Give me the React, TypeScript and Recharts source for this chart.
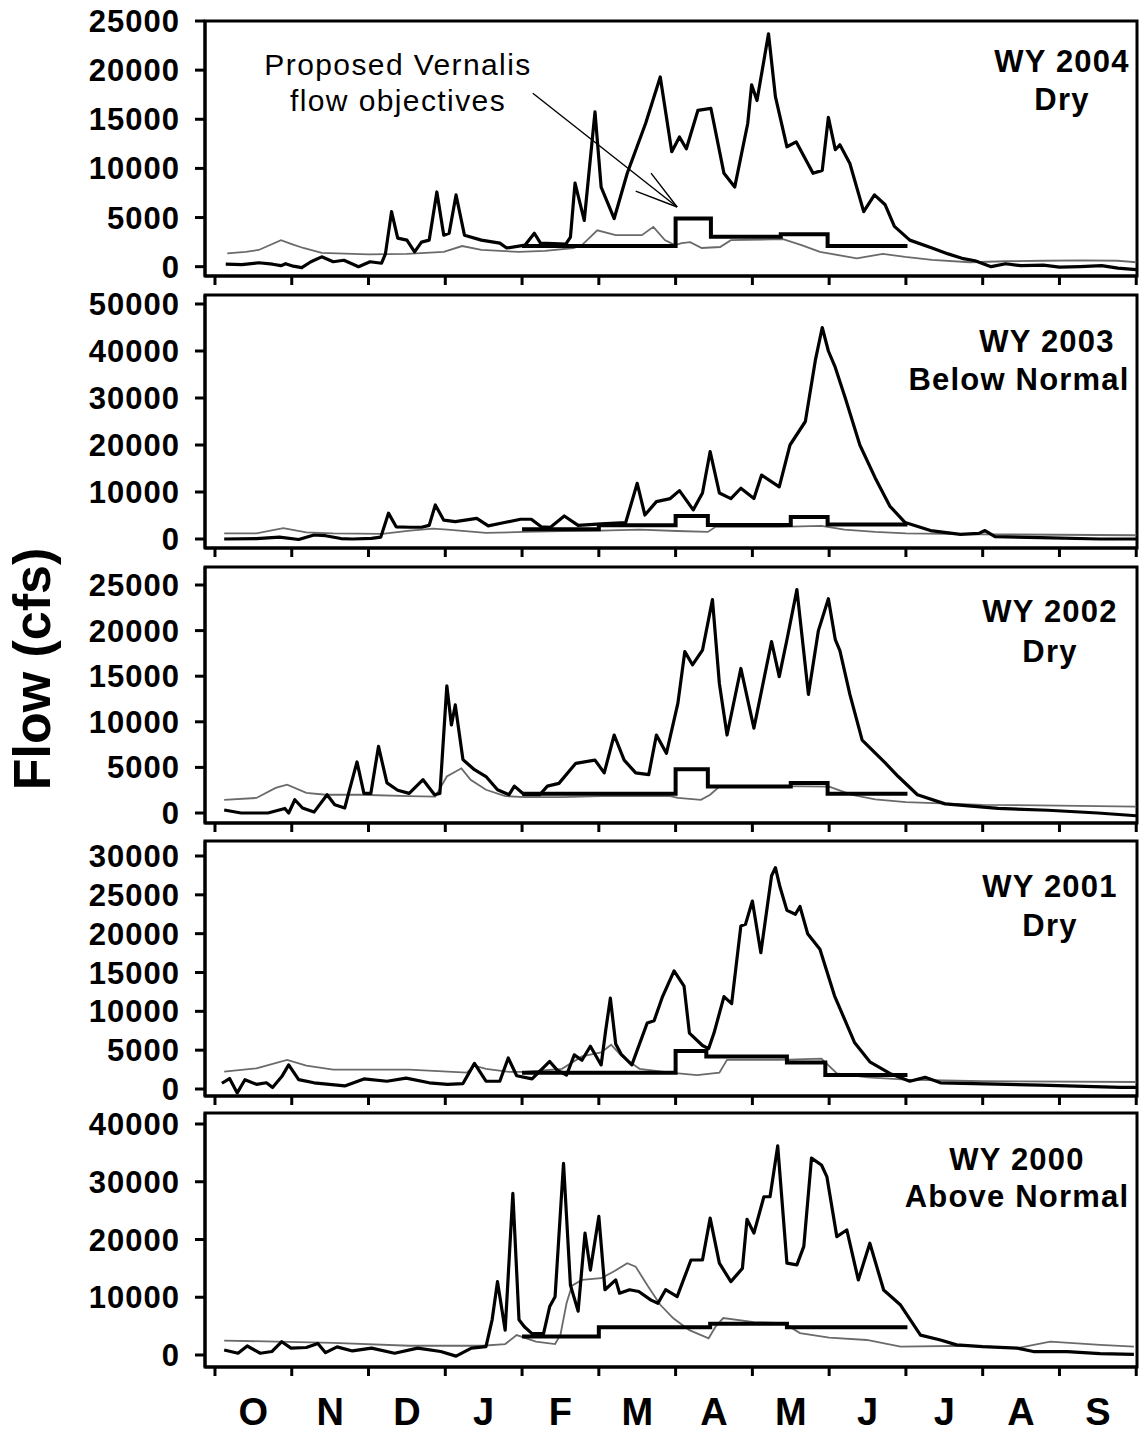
import React from 'react';
import { LineChart, Line, XAxis, YAxis, ReferenceArea, ReferenceLine } from 'recharts';

type Pt = [number, number];

// x = months since Oct 1 (0 = Oct 1, 12 = Sep 30), y = flow (cfs)
const monthLabels = ['O', 'N', 'D', 'J', 'F', 'M', 'A', 'M', 'J', 'J', 'A', 'S'];
const monthTicks = [0, 1, 2, 3, 4, 5, 6, 7, 8, 9, 10, 11, 12];
const labelTicks = [0.5, 1.5, 2.5, 3.5, 4.5, 5.5, 6.5, 7.5, 8.5, 9.5, 10.5, 11.5];

// ---------- WY 2004 ----------
const wy2004Observed: Pt[] = [
  [0.14, 250], [0.35, 200], [0.57, 400], [0.75, 250], [0.86, 100], [0.92, 300], [1.02, 50], [1.13, -100],
  [1.25, 500], [1.39, 1000], [1.54, 500], [1.68, 650], [1.87, 0], [2.02, 500], [2.17, 350], [2.22, 1300],
  [2.3, 5600], [2.38, 2900], [2.5, 2700], [2.6, 1500], [2.69, 2500], [2.79, 2700], [2.89, 7600], [2.98, 3200],
  [3.05, 3400], [3.14, 7300], [3.25, 3200], [3.47, 2700], [3.71, 2400], [3.8, 1900], [4.04, 2200], [4.16, 3400],
  [4.24, 2400], [4.57, 2300], [4.63, 3000], [4.69, 8500], [4.81, 4700], [4.95, 15750], [5.03, 8100], [5.2, 4900],
  [5.37, 9500], [5.61, 14600], [5.8, 19300], [5.95, 11700], [6.05, 13200], [6.14, 12000], [6.29, 15900],
  [6.46, 16100], [6.63, 9500], [6.77, 8100], [6.94, 14600], [6.99, 18500], [7.06, 16900], [7.21, 23700],
  [7.3, 17300], [7.45, 12200], [7.57, 12700], [7.79, 9500], [7.91, 9800], [7.99, 15200], [8.08, 11900],
  [8.14, 12400], [8.27, 10500], [8.45, 5600], [8.59, 7300], [8.73, 6300], [8.85, 4100], [9.05, 2700],
  [9.34, 1900], [9.55, 1300], [9.73, 850], [9.9, 600], [10.11, 0], [10.3, 300], [10.5, 100], [10.79, 150],
  [11.0, -50], [11.27, 0], [11.55, 100], [11.76, -150], [12.0, -300],
];
const wy2004Unimpaired: Pt[] = [
  [0.16, 1350], [0.4, 1500], [0.57, 1700], [0.86, 2700], [1.0, 2300], [1.15, 1900], [1.39, 1400], [2.0, 1250],
  [2.5, 1300], [2.98, 1500], [3.22, 2100], [3.47, 1700], [3.96, 1500], [4.3, 1600], [4.67, 1900], [4.78, 2200],
  [4.98, 3700], [5.22, 3200], [5.56, 3200], [5.71, 4050], [5.86, 2700], [5.99, 2200], [6.08, 2400], [6.19, 2500],
  [6.34, 1900], [6.58, 2000], [6.72, 2700], [7.4, 2800], [7.64, 2200], [7.88, 1500], [8.36, 850], [8.7, 1300],
  [8.99, 1000], [9.34, 700], [9.83, 450], [10.3, 550], [10.79, 600], [11.3, 650], [11.76, 600], [12.0, 450],
];
const wy2004Objective: Pt[] = [[4.0, 2100], [6.0, 4900], [6.46, 3050], [7.37, 3300], [7.98, 2100], [9.02, 2100]];

// ---------- WY 2003 ----------
const wy2003Observed: Pt[] = [
  [0.12, 0], [0.54, 100], [0.84, 400], [1.09, -100], [1.29, 850], [1.44, 700], [1.64, 100], [1.79, 0],
  [2.04, 150], [2.16, 400], [2.26, 5500], [2.36, 2600], [2.54, 2500], [2.69, 2500], [2.79, 2900], [2.87, 7250],
  [2.98, 4000], [3.13, 3700], [3.41, 4400], [3.56, 2800], [3.74, 3400], [3.98, 4200], [4.12, 4200], [4.25, 2600],
  [4.37, 2500], [4.55, 4900], [4.73, 2900], [5.03, 3200], [5.35, 3500], [5.5, 11850], [5.6, 5100], [5.75, 7950],
  [5.93, 8600], [6.05, 10300], [6.23, 6200], [6.35, 9800], [6.45, 18600], [6.57, 9800], [6.72, 8600],
  [6.85, 10800], [7.02, 8600], [7.12, 13600], [7.35, 11100], [7.49, 20000], [7.69, 25000], [7.82, 38000],
  [7.91, 45000], [7.99, 40000], [8.08, 36500], [8.21, 30000], [8.4, 20000], [8.6, 13000], [8.79, 7000],
  [8.99, 3500], [9.32, 1800], [9.71, 1000], [9.95, 1200], [10.03, 1800], [10.16, 500], [10.75, 300], [11.53, 0], [12.0, 0],
];
const wy2003Unimpaired: Pt[] = [
  [0.12, 1200], [0.54, 1200], [0.89, 2300], [1.19, 1400], [1.54, 1200], [2.18, 1100], [2.54, 1800], [2.84, 2200],
  [3.03, 2000], [3.53, 1300], [4.03, 1500], [4.52, 1700], [5.03, 1800], [5.53, 2000], [6.02, 1700], [6.42, 1500],
  [6.52, 2600], [7.35, 2600], [7.9, 2800], [8.2, 2000], [8.6, 1500], [9.0, 1200], [10.0, 1000], [11.0, 900], [12.0, 800],
];
const wy2003Objective: Pt[] = [[4.0, 2100], [5.0, 2900], [6.0, 4900], [6.42, 3000], [7.5, 4700], [7.98, 3100], [9.02, 3100]];

// ---------- WY 2002 ----------
const wy2002Observed: Pt[] = [
  [0.12, 330], [0.34, 0], [0.69, 0], [0.91, 500], [0.96, 0], [1.04, 1450], [1.14, 550], [1.29, 100], [1.46, 2000],
  [1.56, 900], [1.69, 550], [1.74, 2150], [1.85, 5600], [1.94, 2150], [2.03, 2150], [2.13, 7300], [2.24, 3300],
  [2.38, 2500], [2.53, 2150], [2.71, 3650], [2.86, 2000], [2.93, 2150], [3.02, 13950], [3.08, 9650], [3.13, 11850],
  [3.23, 5850], [3.38, 4750], [3.53, 4000], [3.68, 2550], [3.83, 2000], [3.9, 2950], [4.03, 2000], [4.23, 2000],
  [4.33, 2950], [4.48, 3250], [4.7, 5450], [4.95, 5800], [5.07, 4400], [5.2, 8550], [5.33, 5800], [5.48, 4400],
  [5.65, 4200], [5.75, 8550], [5.88, 6550], [6.03, 12050], [6.12, 17700], [6.22, 16250], [6.35, 17850],
  [6.48, 23400], [6.57, 14200], [6.67, 8550], [6.85, 15850], [7.02, 9300], [7.25, 18800], [7.35, 14950],
  [7.45, 19000], [7.58, 24500], [7.73, 13000], [7.86, 20000], [7.99, 23500], [8.08, 19000], [8.14, 17800],
  [8.27, 13000], [8.43, 8000], [8.73, 5500], [8.9, 4000], [9.15, 2000], [9.51, 1000], [10.2, 500], [10.85, 300],
  [11.5, 0], [12.0, -300],
];
const wy2002Unimpaired: Pt[] = [
  [0.12, 1450], [0.54, 1650], [0.79, 2750], [0.94, 3100], [1.19, 2200], [1.44, 2000], [1.89, 2000], [2.53, 1850],
  [2.87, 1800], [3.02, 4000], [3.21, 4900], [3.33, 3650], [3.53, 2550], [3.78, 1850], [4.03, 1750], [4.52, 1750],
  [5.03, 1850], [5.93, 1850], [6.03, 1650], [6.33, 1450], [6.45, 2000], [6.57, 2900], [7.35, 2950], [8.0, 2900],
  [8.3, 2000], [8.6, 1500], [9.0, 1200], [10.0, 900], [11.0, 800], [12.0, 700],
];
const wy2002Objective: Pt[] = [[4.0, 2100], [6.0, 4800], [6.42, 2900], [7.5, 3300], [7.98, 2100], [9.02, 2100]];

// ---------- WY 2001 ----------
const wy2001Observed: Pt[] = [
  [0.09, 740], [0.19, 1350], [0.29, -500], [0.39, 1200], [0.54, 600], [0.67, 800], [0.75, 200], [0.87, 1600],
  [0.96, 3100], [1.09, 1200], [1.29, 800], [1.69, 400], [1.94, 1300], [2.24, 1000], [2.49, 1400], [2.79, 800],
  [3.03, 600], [3.23, 700], [3.38, 3300], [3.53, 1000], [3.71, 1000], [3.82, 4000], [3.93, 1700], [4.13, 1300],
  [4.36, 3550], [4.46, 2400], [4.58, 1800], [4.68, 4400], [4.78, 3700], [4.89, 5500], [5.03, 3100], [5.09, 7600],
  [5.15, 11700], [5.22, 5800], [5.29, 4500], [5.43, 3100], [5.63, 8500], [5.72, 8800], [5.83, 11900],
  [5.98, 15200], [6.11, 13250], [6.18, 7200], [6.35, 5600], [6.43, 5200], [6.5, 7200], [6.63, 11900],
  [6.73, 11000], [6.85, 21000], [6.91, 21200], [7.0, 24200], [7.11, 17550], [7.25, 27450], [7.3, 28500],
  [7.36, 26000], [7.45, 23000], [7.56, 22500], [7.62, 23500], [7.72, 20000], [7.88, 18000], [8.07, 12000],
  [8.33, 6000], [8.53, 3500], [8.79, 2000], [9.05, 1000], [9.25, 1500], [9.45, 800], [10.75, 500], [11.8, 200], [12.0, 200],
];
const wy2001Unimpaired: Pt[] = [
  [0.12, 2250], [0.54, 2650], [0.94, 3750], [1.19, 3000], [1.54, 2500], [2.53, 2500], [3.28, 2100], [3.38, 3000],
  [3.53, 2600], [3.83, 2200], [4.03, 2200], [4.52, 2600], [4.78, 4200], [5.03, 4700], [5.16, 5700], [5.3, 4200],
  [5.53, 2600], [5.93, 2100], [6.28, 1800], [6.57, 2100], [6.67, 3750], [7.36, 3750], [7.9, 3900], [8.1, 2000],
  [8.5, 1500], [9.0, 1200], [10.0, 1000], [12.0, 900],
];
const wy2001Objective: Pt[] = [[4.0, 2100], [6.0, 4900], [6.4, 4200], [7.45, 3400], [7.95, 1800], [9.02, 1800]];

// ---------- WY 2000 ----------
const wy2000Observed: Pt[] = [
  [0.12, 870], [0.3, 300], [0.42, 1560], [0.59, 300], [0.74, 600], [0.87, 2300], [0.99, 1200], [1.19, 1300],
  [1.34, 2000], [1.44, 400], [1.59, 1400], [1.79, 700], [2.04, 1200], [2.34, 300], [2.64, 1200], [2.94, 600],
  [3.14, -200], [3.34, 1200], [3.53, 1450], [3.61, 6100], [3.68, 12700], [3.78, 4300], [3.88, 28000],
  [3.96, 6100], [4.03, 4900], [4.13, 3700], [4.28, 3700], [4.36, 8400], [4.43, 10100], [4.54, 33200],
  [4.63, 12100], [4.73, 7600], [4.82, 21100], [4.89, 14700], [5.0, 24000], [5.08, 11300], [5.22, 13000],
  [5.27, 10700], [5.4, 11300], [5.52, 11000], [5.68, 9500], [5.77, 8950], [5.87, 11300], [6.02, 10100],
  [6.2, 16450], [6.35, 16450], [6.45, 23700], [6.57, 15900], [6.72, 12700], [6.87, 15000], [6.93, 23500],
  [7.02, 21100], [7.15, 27400], [7.23, 27400], [7.33, 36200], [7.45, 15900], [7.58, 15600], [7.67, 18800],
  [7.77, 34100], [7.9, 32900], [7.97, 30900], [8.1, 20500], [8.23, 21650], [8.38, 13000], [8.53, 19350],
  [8.71, 11250], [8.93, 8650], [9.06, 6050], [9.19, 3450], [9.45, 2600], [9.66, 1750], [10.0, 1450],
  [10.45, 1200], [10.66, 600], [11.1, 600], [11.53, 250], [11.97, 100],
];
const wy2000Unimpaired: Pt[] = [
  [0.12, 2500], [1.54, 2100], [2.53, 1600], [3.48, 1600], [3.78, 1900], [3.93, 3450], [4.18, 2300], [4.43, 1900],
  [4.5, 3500], [4.58, 9000], [4.65, 12000], [4.78, 13000], [5.03, 13300], [5.2, 14500], [5.37, 15900],
  [5.48, 15300], [5.64, 11900], [5.8, 8700], [5.97, 6350], [6.18, 4300], [6.43, 2900], [6.52, 4900], [6.62, 6400],
  [7.02, 5700], [7.41, 5500], [7.62, 3800], [8.0, 3000], [8.49, 2600], [8.93, 1450], [9.8, 1600], [10.45, 1200],
  [10.88, 2300], [11.53, 1750], [11.97, 1450],
];
const wy2000Objective: Pt[] = [[4.0, 3200], [5.0, 4800], [6.45, 5400], [7.45, 4800], [9.02, 4800]];

// ---------- layout / options ----------
const FONT = "'Liberation Sans', Arial, Helvetica, sans-serif";
const X_DOMAIN: [number, number] = [-0.13, 12.01];

interface PanelCfg {
  titles: { text: string; x: number; y: number }[];
  observed: Pt[];
  unimpaired: Pt[];
  objective: Pt[];
  yTicks: number[];
  yDomain: [number, number];
  plotTop: number;
  plotBottom: number;
  arrow?: boolean;
}

const panels: PanelCfg[] = [
  {
    titles: [{ text: 'WY 2004', x: 1062, y: 72 }, { text: 'Dry', x: 1062, y: 110 }],
    observed: wy2004Observed, unimpaired: wy2004Unimpaired, objective: wy2004Objective,
    yTicks: [0, 5000, 10000, 15000, 20000, 25000], yDomain: [-950, 25000], plotTop: 21, plotBottom: 276, arrow: true,
  },
  {
    titles: [{ text: 'WY 2003', x: 1047, y: 352 }, { text: 'Below Normal', x: 1019, y: 390 }],
    observed: wy2003Observed, unimpaired: wy2003Unimpaired, objective: wy2003Objective,
    yTicks: [0, 10000, 20000, 30000, 40000, 50000], yDomain: [-1915, 51915], plotTop: 295, plotBottom: 548,
  },
  {
    titles: [{ text: 'WY 2002', x: 1050, y: 622 }, { text: 'Dry', x: 1050, y: 662 }],
    observed: wy2002Observed, unimpaired: wy2002Unimpaired, objective: wy2002Objective,
    yTicks: [0, 5000, 10000, 15000, 20000, 25000], yDomain: [-1096, 26974], plotTop: 567, plotBottom: 823,
  },
  {
    titles: [{ text: 'WY 2001', x: 1050, y: 897 }, { text: 'Dry', x: 1050, y: 936 }],
    observed: wy2001Observed, unimpaired: wy2001Unimpaired, objective: wy2001Objective,
    yTicks: [0, 5000, 10000, 15000, 20000, 25000, 30000], yDomain: [-901, 31931], plotTop: 841, plotBottom: 1096,
  },
  {
    titles: [{ text: 'WY 2000', x: 1017, y: 1170 }, { text: 'Above Normal', x: 1017, y: 1207 }],
    observed: wy2000Observed, unimpaired: wy2000Unimpaired, objective: wy2000Objective,
    yTicks: [0, 10000, 20000, 30000, 40000], yDomain: [-2078, 41905], plotTop: 1113, plotBottom: 1367,
  },
];

const toRows = (a: Pt[]) => a.map(([x, y]) => ({ x, y }));

const axisStroke = { stroke: '#000', strokeWidth: 3 };
const tickFont = { fontSize: 31, fontWeight: 'bold', fill: '#000', fontFamily: FONT, letterSpacing: 1 };

function Panel({ cfg, last }: { cfg: PanelCfg; last: boolean }) {
  const mTop = 20;
  const axisH = 12;
  const labH = last ? 1434 - cfg.plotBottom - axisH : 0;
  const height = mTop + (cfg.plotBottom - cfg.plotTop) + axisH + labH;
  return (
    <div style={{ position: 'absolute', left: 0, top: cfg.plotTop - mTop }}>
      <LineChart width={1143} height={height} margin={{ top: mTop, right: 6, bottom: 0, left: 0 }}>
        <XAxis
          xAxisId={0} type="number" dataKey="x" domain={X_DOMAIN} allowDataOverflow ticks={monthTicks} interval={0}
          tickFormatter={() => ''} tickSize={9} height={axisH} axisLine={axisStroke} tickLine={axisStroke}
        />
        {last && (
          <XAxis
            xAxisId={1} type="number" dataKey="x" domain={X_DOMAIN} allowDataOverflow ticks={labelTicks} interval={0}
            tickFormatter={(v: number) => monthLabels[Math.floor(v)]} axisLine={false} tickLine={false}
            tickSize={0} tickMargin={19} height={labH}
            tick={{ fontSize: 38, fontWeight: 'bold', fill: '#000', fontFamily: FONT }}
          />
        )}
        <YAxis
          type="number" domain={cfg.yDomain} allowDataOverflow ticks={cfg.yTicks} interval={0} width={205}
          tickSize={10} tickMargin={15} axisLine={axisStroke} tickLine={axisStroke} tick={tickFont}
        />
        <ReferenceArea
          xAxisId={0} x1={X_DOMAIN[0]} x2={X_DOMAIN[1]} y1={cfg.yDomain[0]} y2={cfg.yDomain[1]}
          fill="none" fillOpacity={0} stroke="#000" strokeWidth={3} ifOverflow="visible"
        />
        <Line xAxisId={0} data={toRows(cfg.unimpaired)} dataKey="y" type="linear" stroke="#6a6a6a" strokeWidth={1.8}
          dot={false} activeDot={false} isAnimationActive={false} />
        <Line xAxisId={0} data={toRows(cfg.objective)} dataKey="y" type="stepAfter" stroke="#000" strokeWidth={4}
          dot={false} activeDot={false} isAnimationActive={false} />
        <Line xAxisId={0} data={toRows(cfg.observed)} dataKey="y" type="linear" stroke="#000" strokeWidth={3.2}
          strokeLinejoin="round" dot={false} activeDot={false} isAnimationActive={false} />
        {cfg.arrow && (
          <ReferenceLine xAxisId={0} segment={[{ x: 4.14, y: 17650 }, { x: 6.02, y: 6070 }]} stroke="#000" strokeWidth={1.4} ifOverflow="visible" />
        )}
        {cfg.arrow && (
          <ReferenceLine xAxisId={0} segment={[{ x: 5.68, y: 9520 }, { x: 6.02, y: 6070 }]} stroke="#000" strokeWidth={1.4} ifOverflow="visible" />
        )}
        {cfg.arrow && (
          <ReferenceLine xAxisId={0} segment={[{ x: 5.48, y: 7690 }, { x: 6.02, y: 6070 }]} stroke="#000" strokeWidth={1.4} ifOverflow="visible" />
        )}
      </LineChart>
    </div>
  );
}

export default function App() {
  return (
    <div style={{ position: 'absolute', left: 0, top: 0, width: 1143, height: 1434, background: '#fff', overflow: 'hidden' }}>
      {panels.map((p, i) => (
        <Panel key={i} cfg={p} last={i === panels.length - 1} />
      ))}
      <svg width={1143} height={1434} style={{ position: 'absolute', left: 0, top: 0, pointerEvents: 'none' }}>
        <text transform="translate(50,669) rotate(-90)" textAnchor="middle" fontSize={52} fontWeight="bold" fontFamily={FONT} fill="#000">
          Flow (cfs)
        </text>
        <text x={398} y={75} textAnchor="middle" fontSize={30} fontFamily={FONT} letterSpacing={1.4} fill="#000">Proposed Vernalis</text>
        <text x={398} y={111} textAnchor="middle" fontSize={30} fontFamily={FONT} letterSpacing={1.4} fill="#000">flow objectives</text>
        {panels.map((p, i) =>
          p.titles.map((t, j) => (
            <text key={`${i}-${j}`} x={t.x} y={t.y} textAnchor="middle" fontSize={31} fontWeight="bold" fontFamily={FONT}
              letterSpacing={1.2} fill="#000">
              {t.text}
            </text>
          ))
        )}
      </svg>
    </div>
  );
}
